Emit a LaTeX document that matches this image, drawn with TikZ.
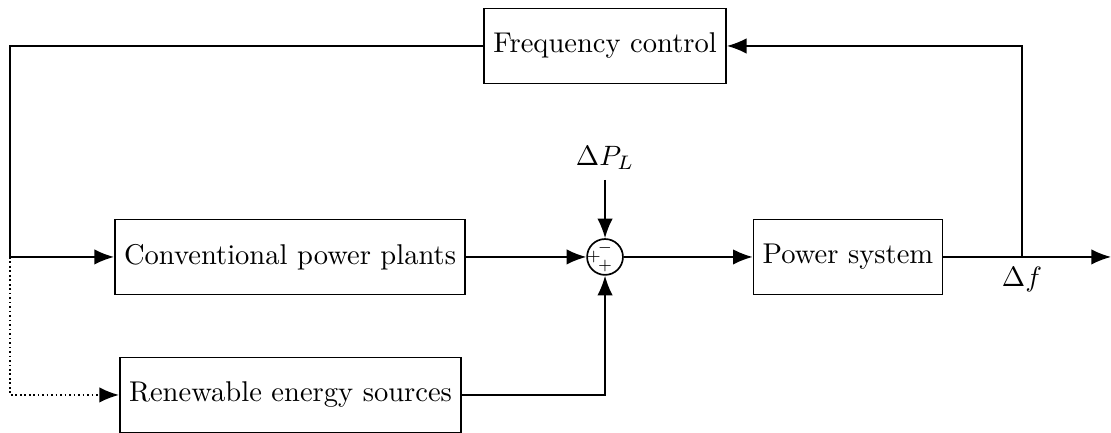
\documentclass[tikz,border=0pt]{standalone}
\usepackage{amsmath}
\usetikzlibrary{arrows.meta, positioning}
\tikzset{>={Latex[length=7pt,width=5.5pt]}}
\tikzset{
    block/.style={draw, minimum height=0.94cm, inner sep=3.3pt, font=\fontsize{10.2pt}{12pt}\selectfont},
    sumnode/.style={draw, circle, minimum size=0.45cm, inner sep=0pt},
    sign/.style={font=\tiny, inner sep=0pt}
}

\begin{document}
\begin{tikzpicture}[semithick]
    \useasboundingbox (0,0) rectangle (13.943,5.434);
    % blocks
    \node[block] (freq) at (7.593,4.857) {Frequency control};
    \node[block] (conv) at (3.640,2.209) {Conventional power plants};
    \node[block] (renew) at (3.646,0.477) {Renewable energy sources};
    \node[sumnode] (sum) at (7.593,2.209) {};
    \node[block] (power) at (10.642,2.209) {Power system};
    \node (dpl) at (7.593,3.451) {$\Delta P_L$};
    \node[sign] (sgntop) at ([yshift=0.11cm]sum.center) {$-$};
    \node[sign] (sgnleft) at ([xshift=-0.14cm]sum.center) {$+$};
    \node[sign] (sgnbot) at ([yshift=-0.11cm]sum.center) {$+$};
    \coordinate (branch) at (12.826,2.209);
    \coordinate (out) at (13.943,2.209);
    \coordinate (left) at (0.1255,2.209);
    \node[below=0pt of branch] (df) {$\Delta f$};

    % signals
    \draw[->](dpl)--(sum);
    \draw[->](conv)--(sum);
    \draw[->](sum)--(power);
    \draw[->](power)--(out);
    \draw[->](branch)|-(freq);
    \draw[->](freq.west)-|(left)--(conv);
    \draw[->, densely dotted](left)|-(renew);
    \draw[->](renew)-|(sum);
\end{tikzpicture}
\end{document}
